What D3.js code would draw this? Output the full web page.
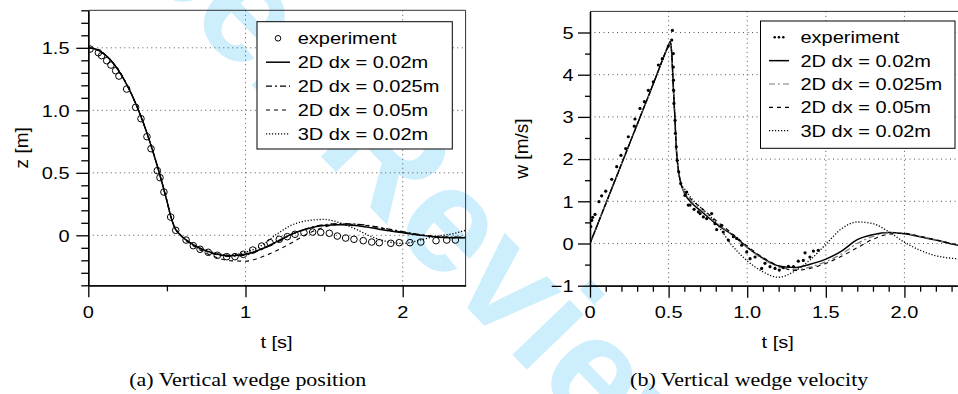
<!DOCTYPE html>
<html>
<head>
<meta charset="utf-8">
<script src="https://cdn.jsdelivr.net/npm/d3@7"></script>
<style>
  html, body { margin: 0; padding: 0; background: #fff; }
  svg { display: block; }
</style>
</head>
<body>
<svg id="chart" width="958" height="394"></svg>
<script>
// ---------------- DATA ----------------
// (a) Vertical wedge position
const zExpT = [0.011,0.064,0.085,0.117,0.144,0.174,0.195,0.244,0.301,0.335,0.373,0.399,0.439,0.456,0.481,0.524,0.556,
  0.622,0.668,0.711,0.763,0.821,0.880,0.933,0.986,1.046,1.103,1.156,1.215,1.266,1.315,1.372,1.427,1.478,1.533,1.584,
  1.637,1.690,1.749,1.803,1.851,1.924,1.978,2.046,2.115,2.212,2.280,2.335];
const zExp = [1.49,1.461,1.437,1.397,1.362,1.317,1.274,1.17,1.024,0.933,0.789,0.693,0.517,0.461,0.346,0.146,0.04,
  -0.038,-0.083,-0.112,-0.136,-0.16,-0.171,-0.171,-0.152,-0.118,-0.086,-0.059,-0.032,-0.011,0.008,0.021,0.026,0.024,
  0.016,-0.006,-0.022,-0.032,-0.043,-0.054,-0.059,-0.064,-0.059,-0.059,-0.054,-0.043,-0.038,-0.038];

const zSimT = [0,0.05,0.1,0.15,0.2,0.25,0.3,0.35,0.4,0.45,0.5,0.525,0.55,0.58,0.62,0.7,0.8,0.9,1.0,1.1,1.2,1.3,1.4,1.5,1.6,1.7,1.8,1.9,2.0,2.1,2.2,2.3,2.4];
const zFall = [1.5,1.488,1.451,1.39,1.304,1.193,1.059,0.9,0.715,0.507,0.275,0.15,0.06,0.01];
const z2D002  = zFall.concat([-0.035,-0.097,-0.145,-0.163,-0.152,-0.11,-0.05,0.013,0.055,0.078,0.084,0.078,0.06,0.038,0.02,0.003,-0.012,-0.019,-0.019]);
const z2D0025 = zFall.concat([-0.036,-0.1,-0.15,-0.168,-0.158,-0.115,-0.055,0.01,0.058,0.085,0.094,0.09,0.075,0.052,0.03,0.008,-0.008,-0.015,-0.015]);
const z2D005  = zFall.concat([-0.04,-0.11,-0.17,-0.203,-0.207,-0.175,-0.122,-0.055,0.015,0.065,0.088,0.088,0.072,0.048,0.025,0.005,-0.01,-0.018,-0.02]);
const z3D002  = zFall.concat([-0.035,-0.095,-0.14,-0.158,-0.135,-0.083,0.01,0.085,0.118,0.127,0.1,0.05,-0.01,-0.05,-0.065,-0.042,-0.01,0.008,0.04]);

// (b) Vertical wedge velocity
const wExpT = [0.005,0.011,0.017,0.032,0.057,0.074,0.1,0.138,0.17,0.197,0.227,0.244,0.282,0.286,0.318,0.346,0.371,0.403,
  0.435,0.46,0.498,0.52,0.524,0.53,0.53,0.531,0.532,0.534,0.541,0.543,0.549,0.555,0.564,0.577,0.604,0.615,0.625,0.636,
  0.662,0.689,0.7,0.721,0.742,0.774,0.795,0.806,0.838,0.848,0.88,0.912,0.933,0.965,0.997,1.018,1.05,1.092,1.113,1.145,
  1.177,1.204,1.23,1.262,1.294,1.325,1.357,1.368,1.399,1.421,1.452];
const wExp = [0.4,0.55,0.62,0.69,0.99,1.13,1.24,1.52,1.82,2.09,2.25,2.53,2.78,2.95,3.2,3.36,3.63,3.83,4.23,4.38,4.68,4.82,
  5.05,4.5,4.18,3.87,3.63,3.32,2.92,2.61,2.29,1.97,1.7,1.42,1.14,1.22,0.91,0.91,0.81,0.75,0.71,0.63,0.59,0.71,0.47,0.33,
  0.43,0.27,0.08,0.16,0.12,-0.04,-0.2,-0.36,-0.32,-0.59,-0.47,-0.55,-0.59,-0.63,-0.57,-0.54,-0.55,-0.42,-0.40,-0.22,
  -0.32,-0.18,-0.16];

const wSimT = [0,0.1,0.2,0.3,0.4,0.5,0.51,0.52,0.53,0.54,0.55,0.56,0.58,0.6,0.65,0.7,0.8,0.9,1.0,1.1,1.2,1.3,1.4,1.5,1.6,1.7,1.8,1.9,2.0,2.1,2.2,2.3,2.4];
const wRise = [0,0.94,1.88,2.82,3.76,4.7,4.78,4.5,3.71,2.98,2.2,1.8,1.4];
const w2D002  = wRise.concat([1.2,0.95,0.79,0.47,0.22,-0.09,-0.35,-0.53,-0.57,-0.49,-0.37,-0.18,0.09,0.21,0.26,0.23,0.16,0.08,-0.01,-0.08]);
const w2D0025 = wRise.concat([1.22,0.98,0.82,0.5,0.22,-0.1,-0.37,-0.56,-0.62,-0.56,-0.43,-0.25,0.0,0.17,0.25,0.24,0.17,0.09,0.0,-0.07]);
const w2D005  = wRise.concat([1.25,1.02,0.87,0.55,0.25,-0.06,-0.33,-0.53,-0.64,-0.59,-0.47,-0.3,-0.1,0.1,0.22,0.24,0.17,0.09,0.0,-0.07]);
const w3D002  = wRise.concat([1.3,1.05,0.87,0.5,-0.03,-0.41,-0.67,-0.8,-0.66,-0.39,-0.02,0.35,0.51,0.47,0.28,0.03,-0.16,-0.29,-0.35,-0.37]);

const legendLabels = ["experiment","2D dx = 0.02m","2D dx = 0.025m","2D dx = 0.05m","3D dx = 0.02m"];
const zTickVals = [0,0.5,1.0,1.5], zTickLabels = ["0","0.5","1.0","1.5"];
const tTickValsA = [0,1,2], tTickLabelsA = ["0","1","2"];
const wTickVals = [-1,0,1,2,3,4,5], wTickLabels = ["\u22121","0","1","2","3","4","5"];
const tTickValsB = [0,0.5,1.0,1.5,2.0], tTickLabelsB = ["0","0.5","1.0","1.5","2.0"];
const watermarkText = "For Peer Review";

// ---------------- DRAWING ----------------
const SANS = "'Liberation Sans', Arial, Helvetica, sans-serif";
const SERIF = "'Liberation Serif', 'Times New Roman', serif";
const SY = 0.84;
const svg = d3.select("#chart");

// light-blue diagonal watermark (behind everything)
svg.append("text")
  .attr("transform", "translate(-137.7,-318.4) rotate(46)")
  .attr("font-family", SANS).attr("font-weight", "bold").attr("font-size", 150)
  .attr("fill", "#cdeefc").text(watermarkText);

function T(g, x, y, s, o = {}) {
  const sy = o.sy === undefined ? SY : o.sy;
  return g.append("text")
    .attr("transform", `translate(${x},${y}) rotate(${o.rotate || 0}) scale(1,${sy})`)
    .attr("text-anchor", o.anchor || "start")
    .attr("font-size", o.size || 20)
    .attr("font-family", o.family || SANS)
    .attr("fill", "#000")
    .text(s);
}

const styles = {
  solid:   {stroke: "#000", width: 1.5, dash: null},
  dd:      {stroke: "#000", width: 1.2, dash: "6,3,2,3"},
  ddGray:  {stroke: "#7a7a7a", width: 1.2, dash: "6,3,2,3"},
  dashed:  {stroke: "#000", width: 1.1, dash: "4,4"},
  dotted:  {stroke: "#000", width: 1.3, dash: "1.2,1.8"}
};

function panel(cfg) {
  const g = svg.append("g");
  const x = d3.scaleLinear().domain(cfg.xDomain).range(cfg.xRange);
  const y = d3.scaleLinear().domain(cfg.yDomain).range(cfg.yRange);
  const [x0, x1] = cfg.xRange, [y0, y1] = [cfg.yRange[1], cfg.yRange[0]];

  const clipId = "clip" + cfg.id;
  svg.append("clipPath").attr("id", clipId).append("rect")
    .attr("x", x0).attr("y", y0).attr("width", x1 - x0).attr("height", y1 - y0);

  // grid
  const grid = g.append("g").attr("stroke", "#555").attr("stroke-width", 1).attr("stroke-dasharray", "1,3.5");
  cfg.gridY.forEach(v => grid.append("line").attr("x1", x0).attr("x2", x1).attr("y1", y(v)).attr("y2", y(v)));
  cfg.gridX.forEach(v => grid.append("line").attr("y1", y0).attr("y2", y1).attr("x1", x(v)).attr("x2", x(v)));

  // border top/right
  g.append("path").attr("d", `M${x0},${y0}H${x1}V${y1}`).attr("fill", "none").attr("stroke", "#333").attr("stroke-width", 1);

  // series
  const line = d3.line().x(d => x(d[0])).y(d => y(d[1])).curve(d3.curveMonotoneX);
  const sg = g.append("g").attr("clip-path", `url(#${clipId})`);
  cfg.series.forEach(s => {
    const st = styles[s.style];
    sg.append("path").datum(s.t.map((t, i) => [t, s.v[i]]))
      .attr("d", line).attr("fill", "none")
      .attr("stroke", st.stroke).attr("stroke-width", st.width)
      .attr("stroke-dasharray", st.dash).attr("stroke-linejoin", "round");
  });
  // experiment
  const ex = cfg.exp;
  sg.append("g").selectAll("circle").data(ex.t.map((t, i) => [t, ex.v[i]])).join("circle")
    .attr("cx", d => x(d[0])).attr("cy", d => y(d[1]))
    .attr("r", ex.hollow ? 3.3 : 1.6)
    .attr("fill", ex.hollow ? "none" : "#000")
    .attr("stroke", ex.hollow ? "#000" : "none").attr("stroke-width", 1);

  // axes
  const ax = (axis, tr) => {
    const a = g.append("g").attr("transform", tr).call(axis);
    a.selectAll("path,line").attr("stroke", "#000").attr("stroke-width", 1.3);
    a.selectAll("text").remove();
    return a;
  };
  ax(d3.axisLeft(y).tickValues(cfg.yMinor).tickSize(cfg.yMinorLen).tickSizeOuter(0).tickFormat(""), `translate(${x0},0)`);
  ax(d3.axisLeft(y).tickValues(cfg.yTicks).tickSize(12).tickSizeOuter(0).tickFormat(""), `translate(${x0},0)`);
  ax(d3.axisBottom(x).tickValues(cfg.xMinor).tickSize(6).tickSizeOuter(0).tickFormat(""), `translate(0,${y1})`);
  ax(d3.axisBottom(x).tickValues(cfg.xTicks).tickSize(12).tickSizeOuter(0).tickFormat(""), `translate(0,${y1})`);

  // tick labels
  cfg.yTicks.forEach((v, i) => T(g, cfg.yLabelX, y(v) + 6.3, cfg.yTickLabels[i], {anchor: "end"}));
  cfg.xTicks.forEach((v, i) => T(g, x(v), 318.3, cfg.xTickLabels[i], {anchor: "middle"}));

  // axis titles
  T(g, cfg.xTitleX, 347.5, "t [s]", {anchor: "middle"});
  T(g, cfg.yTitleX, (y0 + y1) / 2, cfg.yTitle, {anchor: "middle", rotate: -90, sy: 1, size: 19});
  // caption
  T(g, cfg.capX, 386, cfg.caption, {anchor: "middle", family: SERIF, size: 22, sy: 0.86});

  // legend
  const L = cfg.legend;
  const lg = g.append("g");
  lg.append("rect").attr("x", L.x0).attr("y", L.y0).attr("width", L.x1 - L.x0).attr("height", L.y1 - L.y0)
    .attr("fill", "#fff").attr("stroke", "#000").attr("stroke-width", 1);
  legendLabels.forEach((lab, i) => {
    const by = L.base + i * L.step;
    const cy = by - 6;
    if (i === 0) {
      const cx = (L.s0 + L.s1) / 2;
      if (ex.hollow) {
        lg.append("circle").attr("cx", cx).attr("cy", cy).attr("r", 2.8).attr("fill", "none").attr("stroke", "#000");
      } else {
        [-4.3, 0, 4.3].forEach(dx => lg.append("circle").attr("cx", cx + dx).attr("cy", cy).attr("r", 1.3).attr("fill", "#000"));
      }
    } else {
      const st = styles[cfg.series[i - 1].style];
      lg.append("line").attr("x1", L.s0).attr("x2", L.s1).attr("y1", cy).attr("y2", cy)
        .attr("stroke", st.stroke).attr("stroke-width", st.width).attr("stroke-dasharray", st.dash);
    }
    T(lg, L.tx, by, lab);
  });
}

panel({
  id: "A",
  xDomain: [0, 2.4], xRange: [88.3, 465.6],
  yDomain: [-0.4, 1.8], yRange: [285.3, 10.3],
  gridY: [0, 0.5, 1.0, 1.5], gridX: [1, 2],
  yTicks: zTickVals, yTickLabels: zTickLabels,
  yMinor: d3.range(-4, 19).map(k => k / 10).filter(v => !zTickVals.some(t => Math.abs(t - v) < 1e-6)),
  yMinorLen: 7,
  xTicks: tTickValsA, xTickLabels: tTickLabelsA, xMinor: [0.5, 1.5],
  yLabelX: 69.5, xTitleX: 276.5, yTitleX: 28, yTitle: "z [m]",
  capX: 247.7, caption: "(a) Vertical wedge position",
  series: [
    {t: zSimT, v: z2D002, style: "solid"},
    {t: zSimT, v: z2D0025, style: "dd"},
    {t: zSimT, v: z2D005, style: "dashed"},
    {t: zSimT, v: z3D002, style: "dotted"}
  ],
  exp: {t: zExpT, v: zExp, hollow: true},
  legend: {x0: 257, y0: 21.7, x1: 452.3, y1: 149, s0: 266, s1: 290, tx: 297.7, base: 44.3, step: 23.9}
});

panel({
  id: "B",
  xDomain: [0, 2.4], xRange: [590, 967.3],
  yDomain: [-1, 5.5], yRange: [285.7, 11.4],
  gridY: [0, 1, 2, 3, 4, 5], gridX: [0.5, 1.0, 1.5, 2.0],
  yTicks: wTickVals, yTickLabels: wTickLabels,
  yMinor: [-0.5, 0.5, 1.5, 2.5, 3.5, 4.5],
  yMinorLen: 5,
  xTicks: tTickValsB, xTickLabels: tTickLabelsB,
  xMinor: d3.range(1, 24).map(k => k / 10).filter(v => !tTickValsB.some(t => Math.abs(t - v) < 1e-6)),
  yLabelX: 573.5, xTitleX: 777.7, yTitleX: 528, yTitle: "w [m/s]",
  capX: 749.2, caption: "(b) Vertical wedge velocity",
  series: [
    {t: wSimT, v: w2D002, style: "solid"},
    {t: wSimT, v: w2D0025, style: "ddGray"},
    {t: wSimT, v: w2D005, style: "dashed"},
    {t: wSimT, v: w3D002, style: "dotted"}
  ],
  exp: {t: wExpT, v: wExp, hollow: false},
  legend: {x0: 760.5, y0: 21, x1: 955, y1: 148.3, s0: 769, s1: 789, tx: 800.5, base: 43.3, step: 23.35}
});
</script>
</body>
</html>
